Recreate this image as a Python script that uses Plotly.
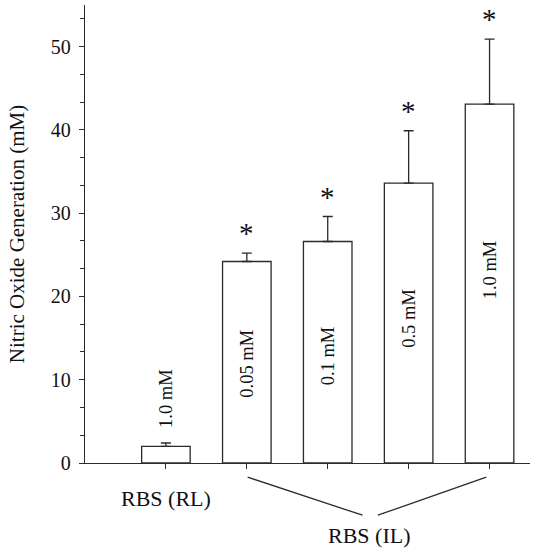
import plotly.graph_objects as go

categories = ["RL 1.0 mM", "IL 0.05 mM", "IL 0.1 mM", "IL 0.5 mM", "IL 1.0 mM"]
bar_labels = ["1.0 mM", "0.05 mM", "0.1 mM", "0.5 mM", "1.0 mM"]
values = [2.0, 24.2, 26.6, 33.6, 43.1]
errors = [0.4, 1.0, 3.0, 6.3, 7.8]
significant = [False, True, True, True, True]
label_y = [7.8, 11.9, 12.9, 17.4, 23.2]
group_labels = ["RBS (RL)", "RBS (IL)"]

FONT = "Liberation Serif, Times New Roman, serif"
INK = "#2b2b2b"
xs = list(range(len(categories)))

fig = go.Figure()
fig.add_trace(go.Bar(
    x=xs, y=values, width=0.6,
    marker=dict(color="white", line=dict(color=INK, width=1.3)),
    error_y=dict(type="data", array=errors, arrayminus=[0] * len(errors),
                 symmetric=False, color=INK, thickness=1.3, width=5),
    showlegend=False, hoverinfo="skip",
))

annotations = []
for i, (lab, ly) in enumerate(zip(bar_labels, label_y)):
    annotations.append(dict(x=i, y=ly, xref="x", yref="y", text=lab, textangle=-90,
                            showarrow=False, font=dict(family=FONT, size=18.5, color="#111")))
for i, (v, e, s) in enumerate(zip(values, errors, significant)):
    if s:
        annotations.append(dict(x=i, y=v + e, xref="x", yref="y", text="*",
                                showarrow=False, yanchor="bottom", yshift=2,
                                font=dict(family=FONT, size=29, color="#111")))
annotations.append(dict(x=0, y=-0.077, xref="x", yref="paper", text=group_labels[0],
                        showarrow=False, yanchor="middle",
                        font=dict(family=FONT, size=22, color="#111")))
annotations.append(dict(x=2.52, y=-0.158, xref="x", yref="paper", text=group_labels[1],
                        showarrow=False, yanchor="middle",
                        font=dict(family=FONT, size=22, color="#111")))

shapes = [
    dict(type="line", xref="x", yref="paper", x0=1.01, y0=-0.031, x1=2.43, y1=-0.114,
         line=dict(color=INK, width=1.3)),
    dict(type="line", xref="x", yref="paper", x0=2.62, y0=-0.114, x1=3.96, y1=-0.031,
         line=dict(color=INK, width=1.3)),
]

fig.update_layout(
    width=541, height=550,
    margin=dict(l=85, r=11, t=5, b=87),
    paper_bgcolor="white", plot_bgcolor="white",
    font=dict(family=FONT, color="#111"),
    annotations=annotations, shapes=shapes,
    xaxis=dict(range=[-1, 4.5], tickvals=xs, ticktext=[""] * len(xs),
               showline=True, linecolor=INK, linewidth=1.3, ticks="outside",
               ticklen=5, tickcolor=INK, tickwidth=1.2, showgrid=False, zeroline=False),
    yaxis=dict(range=[0, 55], tickvals=[0, 10, 20, 30, 40, 50],
               showline=True, linecolor=INK, linewidth=1.3, ticks="outside",
               ticklen=5, tickcolor=INK, tickwidth=1.2, showgrid=False, zeroline=False,
               tickfont=dict(family=FONT, size=20, color="#111"),
               ticklabelstandoff=4,
               minor=dict(dtick=10 / 3, tick0=0, ticks="outside", ticklen=4,
                          tickcolor=INK, tickwidth=1.2, showgrid=False),
               title=dict(text="Nitric Oxide Generation (mM)", standoff=20,
                          font=dict(family=FONT, size=21, color="#111"))),
)

fig.write_html("out.html", config={"displayModeBar": False},
               post_script="document.body.style.margin='0';")
